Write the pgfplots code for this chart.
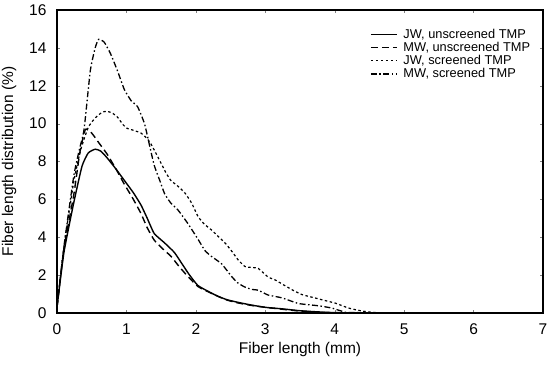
\documentclass[border=0pt]{standalone}
\usepackage{pgfplots}
\pgfplotsset{compat=1.18}
\usepackage{fontspec}
\setmainfont{Liberation Sans}
\begin{document}
\begin{tikzpicture}
\begin{axis}[
  name=ax,
  scale only axis,
  width=486pt, height=303pt,
  xmin=0, xmax=7, ymin=0, ymax=16,
  xtick={0,...,7}, ytick={0,2,...,16},
  /pgf/number format/assume math mode=true,
  tick label style={font=\fontsize{15.5}{17}\selectfont},
  xticklabel style={yshift=-7pt},
  yticklabel style={xshift=-7pt},
  tick align=inside,
  major tick length=3pt,
  axis line style={line width=1.2pt},
  xlabel={Fiber length (mm)},
  ylabel={Fiber length distribution (\%)},
  label style={font=\fontsize{15.5}{17}\selectfont},
  xlabel style={yshift=-1pt},
  ylabel style={yshift=6pt},
  legend style={draw=none, fill=none, at={(0.98,0.945)}, anchor=north east,
    font=\fontsize{12.8}{14}\selectfont, row sep=0.5pt, inner sep=1pt,
    column sep=4pt,
    legend cell align=left,
    nodes={inner ysep=1pt}},
  legend image code/.code={\draw[#1] (0pt,0pt) -- (26pt,0pt);},
]
\addplot[black, line width=1.4pt, smooth, tension=0.3] coordinates {
(0,0.3) (0.1,3.2) (0.24,5.8) (0.36,7.75) (0.45,8.45) (0.55,8.65) (0.63,8.55)
(0.72,8.2) (0.85,7.6) (0.97,7.0) (1.1,6.35) (1.21,5.7) (1.3,5.0) (1.4,4.2)
(1.55,3.7) (1.69,3.2) (1.8,2.6) (1.9,2.05) (2.03,1.45) (2.2,1.1) (2.32,0.88)
(2.45,0.7) (2.61,0.56) (2.8,0.42) (3.0,0.3) (3.24,0.22) (3.5,0.12) (3.8,0.05)
(4.0,0.02) (4.5,0) (7,0)};
\addlegendentry{JW, unscreened TMP}
\addplot[black, line width=1.4pt, dash pattern=on 7pt off 4pt, smooth, tension=0.3] coordinates {
(0,0.3) (0.1,3.4) (0.24,6.2) (0.33,8.5) (0.41,9.7) (0.5,9.5) (0.6,9.0)
(0.72,8.4) (0.85,7.6) (0.97,6.8) (1.1,6.0) (1.21,5.25) (1.3,4.5) (1.4,3.85)
(1.52,3.4) (1.64,3.0) (1.76,2.45) (1.88,1.95) (2.03,1.4) (2.2,1.08) (2.32,0.88)
(2.45,0.68) (2.61,0.53) (2.8,0.4) (3.0,0.3) (3.24,0.2) (3.5,0.1) (3.8,0.04)
(4.2,0) (7,0)};
\addlegendentry{MW, unscreened TMP}
\addplot[black, line width=1.2pt, dash pattern=on 2.5pt off 2.5pt, smooth, tension=0.3] coordinates {
(0,0.3) (0.1,3.5) (0.24,6.9) (0.34,8.6) (0.45,9.8) (0.55,10.3) (0.65,10.6)
(0.72,10.65) (0.8,10.55) (0.87,10.35) (0.95,9.95) (1.01,9.75) (1.1,9.65)
(1.21,9.5) (1.3,9.2) (1.35,8.95) (1.43,8.4) (1.5,7.9) (1.57,7.4) (1.64,7.0)
(1.74,6.7) (1.84,6.35) (1.94,5.8) (2.03,5.1) (2.12,4.7) (2.22,4.4) (2.32,4.05)
(2.42,3.7) (2.52,3.25) (2.61,2.8) (2.71,2.45) (2.82,2.4) (2.9,2.35) (3.04,1.9)
(3.14,1.75) (3.28,1.45) (3.4,1.2) (3.53,0.97) (3.72,0.79) (3.9,0.62) (4.01,0.52)
(4.2,0.26) (4.4,0.1) (4.6,0.02) (5,0) (7,0)};
\addlegendentry{JW, screened TMP}
\addplot[black, line width=1.3pt, dash pattern=on 6pt off 2.5pt on 1.5pt off 2.5pt, smooth, tension=0.3] coordinates {
(0,0.3) (0.1,3.5) (0.24,7.2) (0.32,8.6) (0.39,9.7) (0.48,12.8) (0.55,14.0)
(0.6,14.45) (0.68,14.3) (0.77,13.7) (0.87,12.8) (0.97,11.8) (1.07,11.2)
(1.16,10.9) (1.26,10.0) (1.33,8.9) (1.4,7.8) (1.48,7.0) (1.55,6.3) (1.64,5.8)
(1.74,5.45) (1.88,4.75) (2.03,3.9) (2.13,3.3) (2.22,3.0) (2.37,2.6) (2.51,1.95)
(2.6,1.6) (2.7,1.38) (2.8,1.25) (2.9,1.2) (3.04,0.95) (3.24,0.8) (3.48,0.5)
(3.77,0.38) (3.96,0.26) (4.1,0.1) (4.3,0.02) (7,0)};
\addlegendentry{MW, screened TMP}
\end{axis}
\pgfresetboundingbox
\path ([xshift=-57pt,yshift=-58pt]ax.south west) rectangle ([xshift=12pt,yshift=10pt]ax.north east);
\end{tikzpicture}
\end{document}
